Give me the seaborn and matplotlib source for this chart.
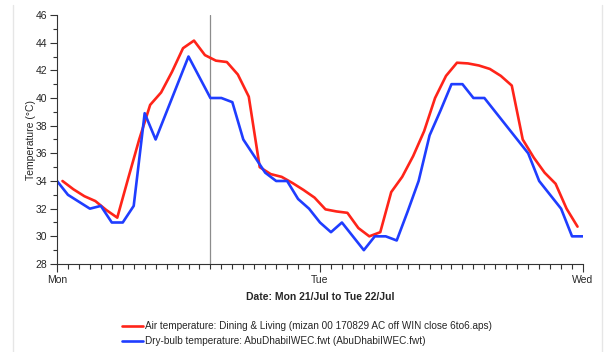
import numpy as np
import pandas as pd
import matplotlib
matplotlib.use('Agg')
import matplotlib.pyplot as plt
import seaborn as sns
from matplotlib.ticker import MultipleLocator
from matplotlib.lines import Line2D

# hours since Mon 00:00
air_hours = [h + 0.5 for h in range(48)]
air_temp = [34.0, 33.4, 32.9, 32.55, 31.9, 31.35,
            34.2, 37.0, 39.5, 40.4, 41.9, 43.6, 44.15, 43.1,
            42.7, 42.6, 41.7, 40.1, 35.0, 34.5, 34.3, 33.85, 33.35, 32.8,
            31.95, 31.8, 31.7, 30.6, 30.0, 30.3,
            33.2, 34.3, 35.8, 37.6, 40.0, 41.6, 42.55, 42.5, 42.35, 42.1,
            41.6, 40.9, 37.0, 35.7, 34.6, 33.8, 32.0, 30.7]

dry_hours = list(range(49))
dry_temp = [34, 33, 32.5, 32, 32.2, 31, 31, 32.2,
            38.9, 37, 39, 41, 43, 41.5,
            40, 40, 39.7, 37, 35.8, 34.6, 34, 34, 32.7, 32, 31, 30.3, 31, 30, 29, 30, 30, 29.7,
            31.8, 34, 37.3, 39.1, 41, 41, 40, 40, 39, 38, 37, 36, 34, 33, 32, 30, 30]

day_ticks = [0, 24, 48]
day_labels = ['Mon', 'Tue', 'Wed']
marker_hour = 14

air_label = 'Air temperature: Dining & Living (mizan 00 170829 AC off WIN close 6to6.aps)'
dry_label = 'Dry-bulb temperature: AbuDhabiIWEC.fwt (AbuDhabiIWEC.fwt)'

air = pd.DataFrame({'hour': air_hours, 'temp': air_temp})
dry = pd.DataFrame({'hour': dry_hours, 'temp': dry_temp})

sns.set_style('ticks')
plt.rcParams['font.family'] = ['Liberation Sans', 'DejaVu Sans']

fig = plt.figure(figsize=(6.04, 3.52), dpi=100)
ax = fig.add_axes([57 / 604, 88 / 352, 526 / 604, 249 / 352])

sns.lineplot(data=air, x='hour', y='temp', ax=ax, color='#ff2419', lw=1.9, label=air_label)
sns.lineplot(data=dry, x='hour', y='temp', ax=ax, color='#1f3dff', lw=1.9, label=dry_label)
ax.axvline(marker_hour, color='#8c8c8c', lw=0.9, zorder=0)

ax.set_xlim(0, 48)
ax.set_ylim(28, 46)
ax.set_xticks(day_ticks)
ax.set_xticklabels(day_labels)
ax.xaxis.set_minor_locator(MultipleLocator(1))
ax.yaxis.set_major_locator(MultipleLocator(2))
ax.yaxis.set_minor_locator(MultipleLocator(1))
ax.tick_params(which='major', length=6, width=0.8, color='#333333', labelsize=7.5, pad=2)
ax.tick_params(which='minor', length=3.5, width=0.8, color='#333333')
ax.tick_params(axis='y', which='major', length=5)
ax.tick_params(axis='y', which='minor', length=3)

for s in ['top', 'right']:
    ax.spines[s].set_visible(False)
for s in ['left', 'bottom']:
    ax.spines[s].set_color('#333333')
    ax.spines[s].set_linewidth(0.8)

ax.set_xlabel('Date: Mon 21/Jul to Tue 22/Jul', fontsize=7.5, fontweight='bold', labelpad=5)
ax.set_ylabel('Temperature (°C)', fontsize=7.5, labelpad=0)

ax.legend(loc='upper left', bbox_to_anchor=(118 / 604, 1 - 317 / 352), bbox_transform=fig.transFigure,
          frameon=False, fontsize=7.2, handlelength=2.1, handletextpad=0.2, labelspacing=0.5,
          borderaxespad=0)

# faint frame of the screenshot
fig.add_artist(Line2D([13 / 604, 13 / 604], [0, 1 - 5 / 352], color='#e6e6e6', lw=1))
fig.add_artist(Line2D([602 / 604, 602 / 604], [0, 1 - 5 / 352], color='#e6e6e6', lw=1))

plt.savefig('out.png', dpi=100)
